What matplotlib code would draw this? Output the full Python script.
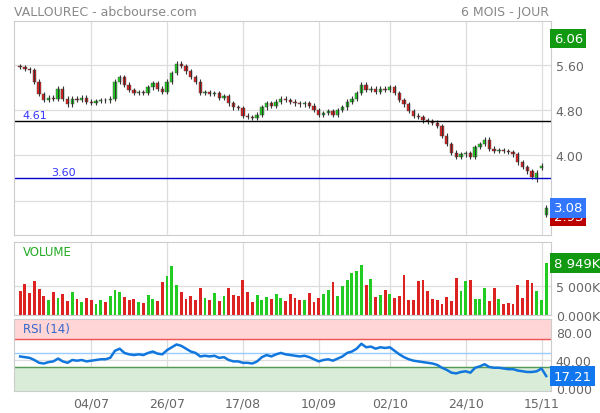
import matplotlib
matplotlib.use("Agg")
import matplotlib.pyplot as plt
import numpy as np

# --- DATA ---
closes = [5.56, 5.52, 5.50, 5.30, 5.08, 4.98, 5.02, 5.00, 5.18, 5.00,
          4.90, 5.00, 4.98, 5.02, 4.95, 4.93, 4.96, 4.98, 4.97, 5.00,
          5.30, 5.38, 5.25, 5.15, 5.10, 5.12, 5.10, 5.20, 5.28, 5.18,
          5.12, 5.30, 5.45, 5.62, 5.58, 5.48, 5.38, 5.30, 5.10, 5.12,
          5.08, 5.10, 5.02, 5.05, 4.92, 4.85, 4.84, 4.70, 4.68, 4.66,
          4.72, 4.85, 4.92, 4.88, 4.95, 5.00, 4.98, 4.95, 4.92, 4.90,
          4.92, 4.88, 4.80, 4.72, 4.75, 4.78, 4.72, 4.80, 4.85, 4.95,
          5.00, 5.10, 5.25, 5.15, 5.18, 5.12, 5.18, 5.16, 5.20, 5.10,
          4.98, 4.90, 4.78, 4.70, 4.68, 4.62, 4.60, 4.58, 4.52, 4.35,
          4.20, 4.05, 3.98, 4.02, 4.04, 3.98, 4.15, 4.20, 4.28, 4.12,
          4.08, 4.10, 4.08, 4.06, 4.02, 3.88, 3.80, 3.72, 3.62, 3.70,
          3.82, 3.08]
opens = [5.58, 5.56, 5.52, 5.50, 5.30, 5.08, 4.98, 5.02, 5.00, 5.18,
         5.00, 4.90, 5.00, 4.98, 5.02, 4.95, 4.93, 4.96, 4.98, 4.97,
         5.00, 5.30, 5.38, 5.25, 5.15, 5.10, 5.12, 5.10, 5.20, 5.28,
         5.18, 5.12, 5.30, 5.45, 5.62, 5.58, 5.48, 5.38, 5.30, 5.10,
         5.12, 5.08, 5.10, 5.02, 5.05, 4.92, 4.85, 4.84, 4.70, 4.68,
         4.66, 4.72, 4.85, 4.92, 4.88, 4.95, 5.00, 4.98, 4.95, 4.92,
         4.90, 4.92, 4.88, 4.80, 4.72, 4.75, 4.78, 4.72, 4.80, 4.85,
         4.95, 5.00, 5.10, 5.25, 5.15, 5.18, 5.12, 5.18, 5.16, 5.20,
         5.10, 4.98, 4.90, 4.78, 4.70, 4.68, 4.62, 4.60, 4.58, 4.52,
         4.35, 4.20, 4.05, 3.98, 4.02, 4.04, 3.98, 4.15, 4.20, 4.28,
         4.12, 4.08, 4.10, 4.08, 4.06, 4.02, 3.88, 3.80, 3.72, 3.58,
         3.78, 2.95]
volumes = [4200, 5300, 3800, 5800, 4500, 3200, 2600, 4000, 3000, 3600,
           2400, 3900, 2800, 2200, 3000, 2500, 1800, 2600, 2200, 3200,
           4300, 3900, 3100, 2500, 2800, 2200, 2000, 3400, 2800, 2400,
           5600, 6800, 8500, 5200, 3900, 2800, 3300, 2600, 4600, 3000,
           2500, 3700, 2400, 3200, 4600, 3400, 3200, 6100, 3900, 2200,
           3400, 2600, 3100, 2700, 3600, 2900, 2400, 3600, 3000, 2600,
           2600, 3800, 2200, 3000, 3600, 4300, 5700, 3300, 5000, 6100,
           7200, 7600, 8600, 5200, 6200, 3100, 3400, 4300, 3600, 3000,
           3300, 6900, 2600, 2500, 5800, 6100, 4200, 2700, 2600, 1800,
           3100, 2400, 6300, 4200, 5800, 6000, 2700, 2800, 4600, 2400,
           4700, 2700, 1800, 2000, 1800, 5200, 2900, 6000, 5500, 4200,
           2600, 8949]
rsi = [45, 44, 43, 40, 36, 35, 37, 38, 42, 38,
       36, 40, 39, 40, 38, 39, 40, 41, 41, 43,
       53, 56, 50, 48, 47, 48, 47, 50, 52, 49,
       48, 54, 58, 62, 60, 56, 52, 50, 45, 46,
       45, 46, 43, 44, 40, 38, 38, 36, 36, 35,
       38, 44, 47, 45, 48, 50, 48, 47, 46, 45,
       46, 44, 41, 38, 40, 41, 39, 42, 45, 50,
       52, 56, 63, 58, 59, 56, 58, 57, 58, 53,
       48, 44, 41, 39, 38, 37, 36, 35, 33, 29,
       26, 22, 21, 23, 24, 22, 29, 31, 34, 30,
       29, 29, 28, 27, 27, 25, 24, 23, 23, 24,
       28, 17.21]
date_idx = [15, 31, 47, 63, 78, 94, 110]
date_labels = ["04/07", "26/07", "17/08", "10/09", "02/10", "24/10", "15/11"]
price_ticks = [3.20, 4.00, 4.80, 5.60]

GRID = "#dddddd"
TXT = "#666666"
UP, DOWN = "#22cc22", "#dd2222"

fig = plt.figure(figsize=(6, 4.14), dpi=100)
ax = fig.add_axes([0.0233, 0.430, 0.895, 0.517])
axv = fig.add_axes([0.0233, 0.237, 0.895, 0.176])
axr = fig.add_axes([0.0233, 0.053, 0.895, 0.174])

x = np.arange(len(closes))
for a in (ax, axv, axr):
    a.set_xlim(-1.3, 112)
    for s in a.spines.values():
        s.set_color("#cccccc")
    a.set_xticks(date_idx)
    a.grid(True, color=GRID, lw=0.9)
    a.set_axisbelow(True)
    a.yaxis.tick_right()
    a.tick_params(length=0, labelsize=9, colors=TXT)
    a.set_xticklabels([])

# candles
for i in x:
    o, c = opens[i], closes[i]
    col = UP if c >= o else DOWN
    hi, lo = max(o, c) + 0.04, min(o, c) - 0.04
    ax.vlines(i, lo, hi, color="#333333", lw=0.8)
    ax.bar(i, max(abs(c - o), 0.015), bottom=min(o, c), width=0.7,
           color=col, edgecolor="#444444", lw=0.3)
ax.set_ylim(2.60, 6.37)
ax.set_yticks(price_ticks)
ax.set_yticklabels([f"{v:.2f}" for v in price_ticks])
ax.axhline(4.61, color="black", lw=1)
ax.axhline(3.60, color="#0000cc", lw=1)
ax.text(0.5, 4.63, "4.61", color="#3333ff", fontsize=8, va="bottom")
ax.text(6.5, 3.62, "3.60", color="#3333ff", fontsize=8, va="bottom")

def tag(a, y, s, col):
    a.text(1.005, y, s, transform=a.get_yaxis_transform(), color="white",
           fontsize=9.5, va="center", ha="left",
           bbox=dict(boxstyle="square,pad=0.25", fc=col, ec="none"))

tag(ax, 2.93, "2.93", "#bb0000")
tag(ax, 3.08, "3.08", "#3377ff")
tag(ax, 6.06, "6.06", "#119911")

# volume
vcols = [UP if closes[i] >= opens[i] else DOWN for i in x]
axv.bar(x, volumes, width=0.6, color=vcols)
axv.set_ylim(0, 12600)
axv.set_yticks([0, 5000])
axv.set_yticklabels(["0.000K", "5 000K"])
axv.text(0.5, 12000, "VOLUME", color="#22aa22", fontsize=8.5, va="top")
tag(axv, volumes[-1], "8 949K", "#119911")

# rsi
axr.axhspan(70, 98, color="#ffd5d5")
axr.axhspan(-4, 30, color="#d8ecd8")
axr.axhline(70, color="#ee5555", lw=1)
axr.axhline(50, color="#99ccff", lw=1)
axr.axhline(30, color="#559955", lw=1)
axr.plot(x, rsi, color="#1177dd", lw=1.8)
axr.set_ylim(-4, 98)
axr.set_yticks([0, 40, 80])
axr.set_yticklabels(["0.000", "40.00", "80.00"])
axr.text(0.5, 94, "RSI (14)", color="#3366cc", fontsize=8.5, va="top")
tag(axr, rsi[-1], "17.21", "#1177ee")
axr.set_xticklabels(date_labels)
axr.tick_params(axis="x", pad=4, labelsize=9)

fig.text(0.023, 0.985, "VALLOUREC - abcbourse.com", color="#888888", fontsize=9, va="top")
fig.text(0.915, 0.985, "6 MOIS - JOUR", color="#888888", fontsize=9, va="top", ha="right")

fig.savefig("out.png", dpi=100)
